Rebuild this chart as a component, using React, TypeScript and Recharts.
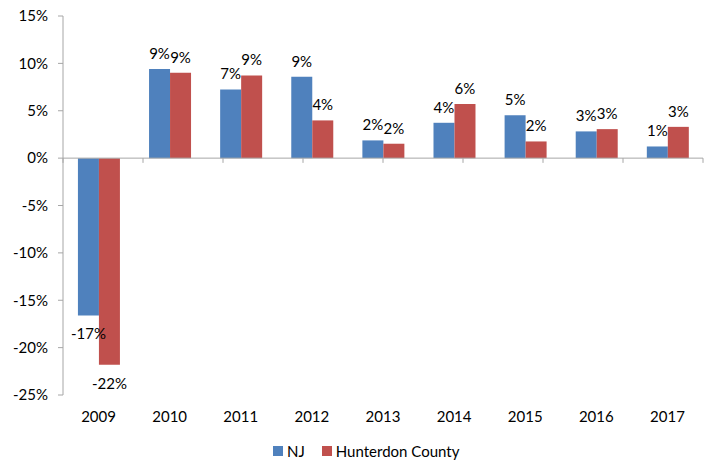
import React from 'react';
import { BarChart, Bar, XAxis, YAxis, ReferenceLine, LabelList, Legend } from 'recharts';

const years = ['2009', '2010', '2011', '2012', '2013', '2014', '2015', '2016', '2017'];
const njValues = [-16.6, 9.4, 7.25, 8.6, 1.87, 3.73, 4.52, 2.82, 1.23];
const hunterdonValues = [-21.8, 9.0, 8.73, 3.98, 1.52, 5.7, 1.76, 3.06, 3.3];
const yTicks = [-25, -20, -15, -10, -5, 0, 5, 10, 15];
const boundaries = [0, 1, 2, 3, 4, 5, 6, 7, 8, 9];

const seriesNames = ['NJ', 'Hunterdon County'];
const colors = ['#4F81BD', '#C0504D'];

const data = years.map((y, i) => ({ year: y, nj: njValues[i], hc: hunterdonValues[i] }));

const FONT = 'Lato, "Open Sans", sans-serif';
const AXIS = '#A6A6A6';
const FS = 15;

const ValueLabel = (props: any) => {
  const { x, y, width, height, value } = props;
  const top = Math.min(y, y + height);
  const bottom = Math.max(y, y + height);
  const cx = x + width / 2;
  const ty = value >= 0 ? top - 10 : bottom + 24;
  return (
    <text x={cx} y={ty} textAnchor="middle" fontSize={FS} fontFamily={FONT} fill="#000">
      {Math.round(value) + '%'}
    </text>
  );
};

const LegendContent = () => (
  <div style={{ display: 'flex', alignItems: 'center', fontFamily: FONT, fontSize: FS, color: '#000' }}>
    {seriesNames.map((n, i) => (
      <div key={n} style={{ display: 'flex', alignItems: 'center', marginRight: 17 }}>
        <div style={{ width: 10, height: 10, background: colors[i], marginRight: 4 }} />
        <span>{n}</span>
      </div>
    ))}
  </div>
);

export default function App() {
  return (
    <div style={{ position: 'absolute', left: 0, top: 0, background: '#fff' }}>
      <BarChart
        width={712}
        height={462}
        data={data}
        margin={{ top: 16, right: 9, left: 0, bottom: 14 }}
        barCategoryGap="21%"
        barGap={0}
      >
        <XAxis
          dataKey="year"
          axisLine={false}
          tickLine={false}
          tickSize={0}
          tickMargin={16}
          height={35}
          tick={{ fontSize: FS, fontFamily: FONT, fill: '#000' }}
          interval={0}
        />
        <XAxis xAxisId="num" type="number" domain={[0, 9]} hide />
        <YAxis
          domain={[-25, 15]}
          ticks={yTicks}
          interval={0}
          width={63}
          allowDataOverflow
          tickFormatter={(v: number) => v + '%'}
          axisLine={{ stroke: AXIS }}
          tickLine={{ stroke: AXIS }}
          tickSize={5}
          tickMargin={10}
          tick={{ fontSize: FS, fontFamily: FONT, fill: '#000' }}
        />
        <ReferenceLine y={0} stroke={AXIS} />
        {boundaries.map((b) => (
          <ReferenceLine
            key={b}
            xAxisId="num"
            segment={[{ x: b, y: 0 }, { x: b, y: -0.5 }]}
            stroke={AXIS}
          />
        ))}
        <Bar dataKey="nj" name={seriesNames[0]} fill={colors[0]} isAnimationActive={false}>
          <LabelList dataKey="nj" content={ValueLabel} />
        </Bar>
        <Bar dataKey="hc" name={seriesNames[1]} fill={colors[1]} isAnimationActive={false}>
          <LabelList dataKey="hc" content={ValueLabel} />
        </Bar>
        <Legend
          content={LegendContent}
          wrapperStyle={{ position: 'absolute', left: 273, top: 442, width: 'auto' }}
        />
      </BarChart>
    </div>
  );
}
